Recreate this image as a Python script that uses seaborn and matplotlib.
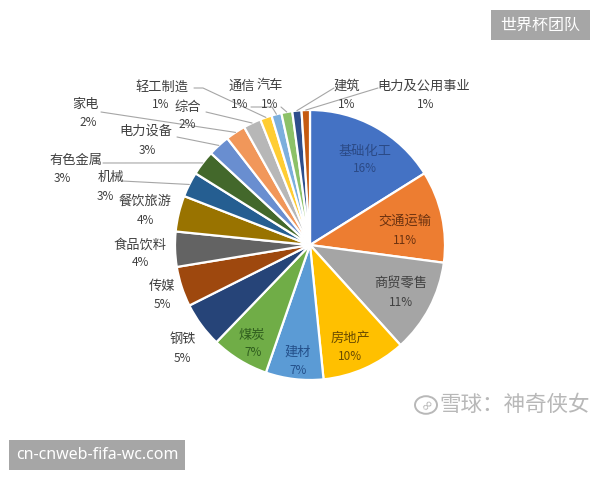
import numpy as np
import matplotlib
matplotlib.use("Agg")
import matplotlib.pyplot as plt
import matplotlib.patches as mpatches
import seaborn as sns

# ---------------- data ----------------
sectors = ["基础化工", "交通运输", "商贸零售", "房地产", "建材", "煤炭", "钢铁", "传媒",
           "食品饮料", "餐饮旅游", "机械", "有色金属", "电力设备", "家电", "综合",
           "轻工制造", "通信", "汽车", "建筑", "电力及公用事业"]
shares = [16.1, 11.0, 11.2, 10.1, 6.9, 6.9, 5.4, 4.8,
          4.2, 4.3, 3.0, 3.0, 2.6, 2.4, 2.1,
          1.4, 1.2, 1.3, 1.1, 1.0]
pct_labels = ["16%", "11%", "11%", "10%", "7%", "7%", "5%", "5%",
              "4%", "4%", "3%", "3%", "3%", "2%", "2%",
              "1%", "1%", "1%", "1%", "1%"]

# ---------------- style ----------------
colors = ["#4472C4", "#ED7D31", "#A5A5A5", "#FFC000", "#5B9BD5", "#70AD47",
          "#264478", "#9E480E", "#636363", "#997300", "#255E91", "#43682B",
          "#698ED0", "#F1975A", "#B7B7B7", "#FFCD33", "#7CAFDD", "#8CC168",
          "#2E4E8C", "#C55A11"]
inside_text = {0: "#2B4A86", 1: "#6B3210", 2: "#404040", 3: "#6A4C00",
               4: "#24508A", 5: "#2F5D1E"}

sns.set_theme(style="white")
plt.rcParams["font.family"] = ["Noto Sans CJK SC", "DejaVu Sans"]

W, H, R = 600, 480, 135.0
CX, CY = 310.0, 245.0


def P(x, y):
    """pixel position -> data coordinates (pie radius = 1)"""
    return ((x - CX) / R, (CY - y) / R)


fig = plt.figure(figsize=(6, 4.8), dpi=100)
fig.patch.set_facecolor("white")
ax = fig.add_axes([0, 0, 1, 1])
pal = sns.color_palette(colors)
wedges, _ = ax.pie(shares, colors=pal, startangle=90, counterclock=False,
                   radius=1.0, center=(0, 0),
                   wedgeprops=dict(edgecolor="white", linewidth=1.6))
ax.set_xlim(-CX / R, (W - CX) / R)
ax.set_ylim(-(H - CY) / R, CY / R)
ax.set_aspect("auto")
ax.axis("off")

# label layout (pixel centres of name / percentage); None = no leader line
layout = {
    0: ((365, 152), (365, 169), None),
    1: ((405, 221), (405, 240), None),
    2: ((401, 283), (401, 302), None),
    3: ((350, 338), (350, 356), None),
    4: ((298, 352), (298, 370), None),
    5: ((252, 336), (253, 353), None),
    6: ((183, 339), (182, 358), None),
    7: ((162, 286), (162, 304), None),
    8: ((140, 245), (140, 263), None),
    9: ((145, 201), (145, 220), None),
    10: ((111, 177), (105, 197), [(122, 181)]),
    11: ((76, 160), (62, 179), [(103, 163)]),
    12: ((146, 131), (147, 150), [(177, 137)]),
    13: ((85, 104), (88, 123), [(101, 112)]),
    14: ((188, 107), (187, 125), [(206, 112)]),
    15: ((162, 87), (161, 105), [(194, 88), (203, 88)]),
    16: ((242, 86), (240, 104), [(251, 107), (272, 107)]),
    17: ((270, 86), (270, 104), [(281, 107)]),
    18: ((347, 86), (347, 104), [(334, 88)]),
    19: ((424, 86), (426, 104), [(378, 88)]),
}

for i, w in enumerate(wedges):
    (nx, ny), (px_, py_), lead = layout[i]
    col = inside_text.get(i, "#404040")
    ax.text(*P(nx, ny), sectors[i], ha="center", va="center",
            fontsize=9.5, color=col)
    ax.text(*P(px_, py_), pct_labels[i], ha="center", va="center",
            fontsize=8.5, color=col)
    if lead:
        mid = np.deg2rad((w.theta1 + w.theta2) / 2.0)
        ex, ey = np.cos(mid) * w.r, np.sin(mid) * w.r
        pts = [P(*p) for p in lead] + [(ex, ey)]
        xs, ys = zip(*pts)
        ax.plot(xs, ys, color="#A6A6A6", lw=0.8, zorder=1)

# watermark boxes
fig.patches.append(mpatches.Rectangle((491 / W, 1 - 40 / H), 99 / W, 30 / H,
                                      transform=fig.transFigure,
                                      facecolor="#A6A6A6", edgecolor="none"))
fig.text(540.5 / W, 1 - 25 / H, "世界杯团队", ha="center", va="center",
         color="white", fontsize=11.5)

fig.patches.append(mpatches.Rectangle((9 / W, 1 - 470 / H), 176 / W, 30 / H,
                                      transform=fig.transFigure,
                                      facecolor="#A6A6A6", edgecolor="none"))
fig.text(97 / W, 1 - 455 / H, "cn-cnweb-fifa-wc.com", ha="center", va="center",
         color="white", fontsize=11.5, family=["Noto Sans", "DejaVu Sans"])

# xueqiu watermark
fig.patches.append(mpatches.Circle((426 / W, 1 - 405 / H), 11 / W,
                                   transform=fig.transFigure,
                                   facecolor="none", edgecolor="#B8B8B8", lw=1.4))
fig.text(427 / W, 1 - 405 / H, "∞", ha="center", va="center",
         color="#B8B8B8", fontsize=11, rotation=45, family="DejaVu Sans")
fig.text(515 / W, 1 - 405 / H, "雪球：神奇侠女", ha="center", va="center",
         color="#B8B8B8", fontsize=15.5)

fig.savefig("out.png", dpi=100, facecolor="white")
